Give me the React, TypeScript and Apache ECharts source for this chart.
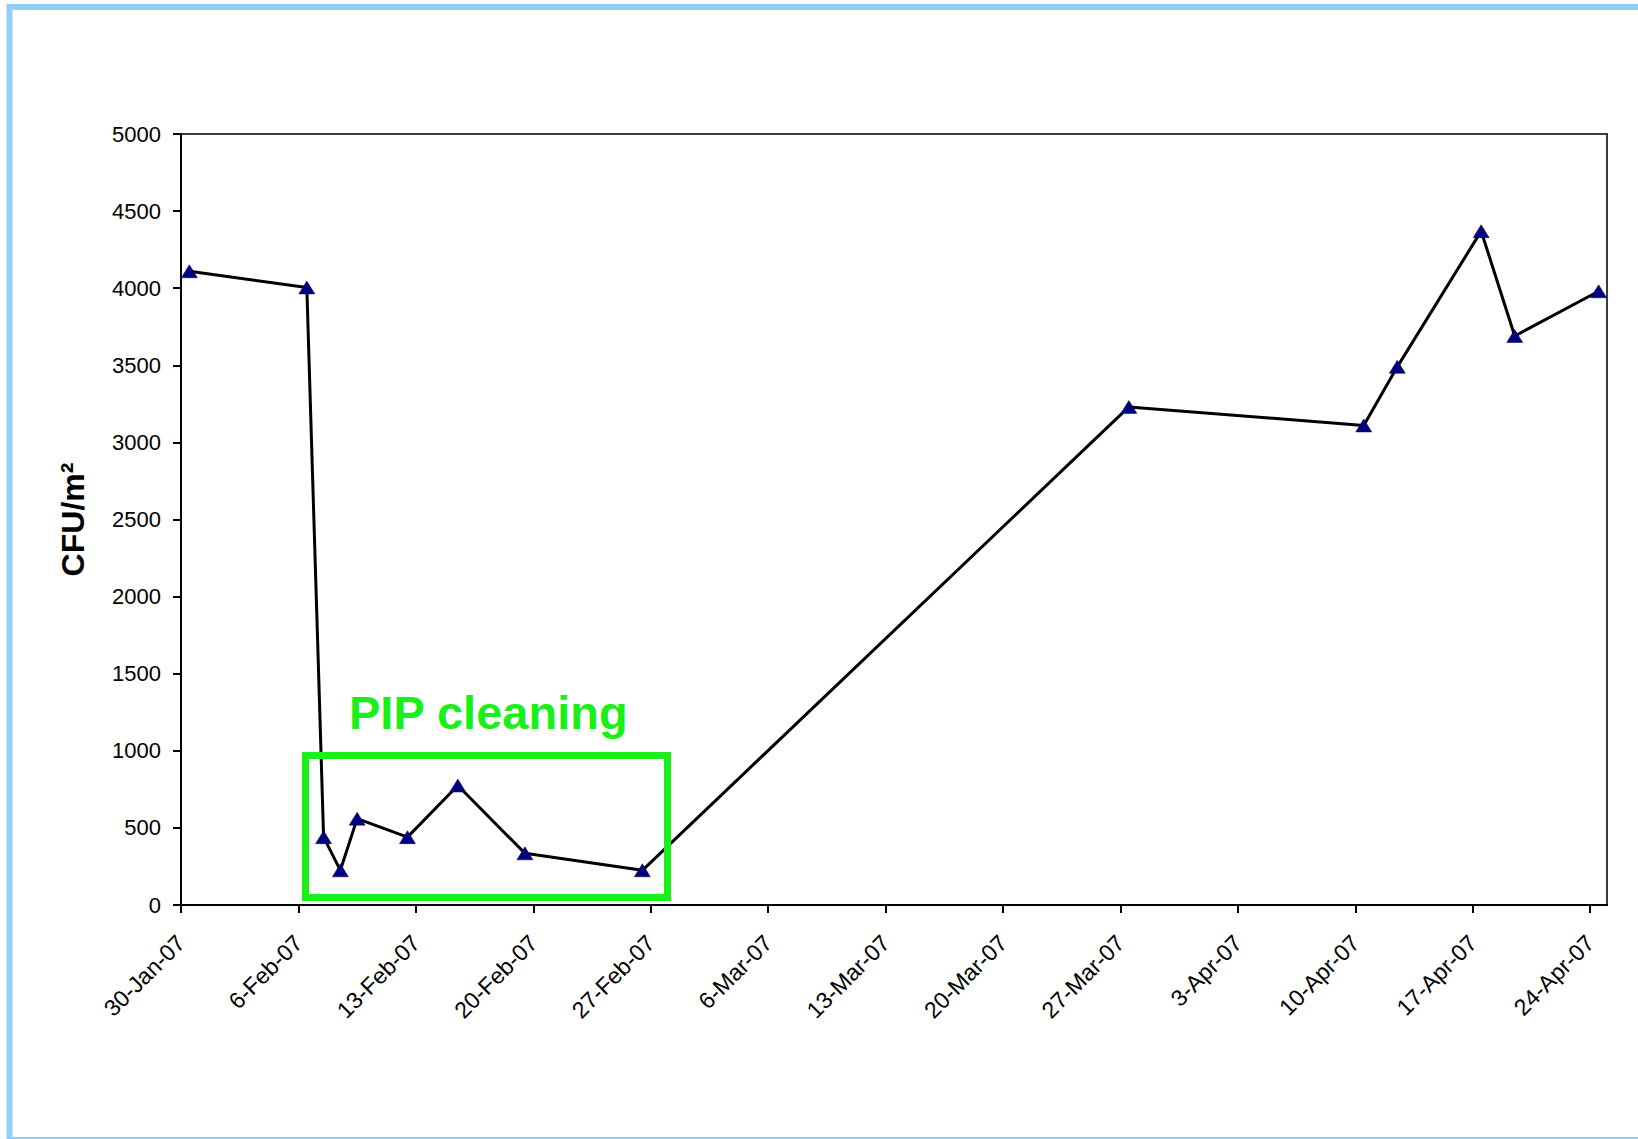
import React, { useEffect, useRef } from "react";
import * as echarts from "echarts";

// Sampling dates and measured values (CFU/m²)
const sampleDates = [
  "2007-01-30", "2007-02-06", "2007-02-07", "2007-02-08", "2007-02-09",
  "2007-02-12", "2007-02-15", "2007-02-19", "2007-02-26", "2007-03-27",
  "2007-04-10", "2007-04-12", "2007-04-17", "2007-04-19", "2007-04-24",
];
const cfuValues = [4110, 4005, 440, 225, 560, 440, 775, 335, 225, 3230, 3110, 3490, 4370, 3690, 3980];

// X axis tick labels (weekly)
const xTickLabels = [
  "30-Jan-07", "6-Feb-07", "13-Feb-07", "20-Feb-07", "27-Feb-07", "6-Mar-07",
  "13-Mar-07", "20-Mar-07", "27-Mar-07", "3-Apr-07", "10-Apr-07", "17-Apr-07", "24-Apr-07",
];
const axisStart = "2007-01-30";
const axisDays = 85;
const tickStepDays = 7;

const annotationText = "PIP cleaning";
const yAxisTitle = "CFU/m²";

const DAY = 86400000;

export default function App() {
  const ref = useRef<HTMLDivElement>(null);

  useEffect(() => {
    if (!ref.current) return;
    const chart = echarts.init(ref.current, undefined, { renderer: "svg" });
    const t0 = Date.parse(axisStart);
    const data = sampleDates.map((d, i) => [
      (Date.parse(d) - t0) / DAY + 0.5,
      cfuValues[i],
    ]);
    const tickValues = xTickLabels.map((_, i) => i * tickStepDays);
    const font = "'Liberation Sans', Arial, sans-serif";

    chart.setOption({
      animation: false,
      backgroundColor: "#ffffff",
      grid: {
        left: 181,
        top: 134,
        right: 31,
        bottom: 234,
        show: true,
        borderColor: "#3c3c3c",
        borderWidth: 2,
        backgroundColor: "transparent",
      },
      xAxis: {
        type: "value",
        min: 0,
        max: axisDays,
        interval: tickStepDays,
        splitLine: { show: false },
        axisLine: { show: true, lineStyle: { color: "#000", width: 2 } },
        axisTick: {
          show: true,
          length: 8,
          lineStyle: { color: "#000", width: 2 },
          customValues: tickValues,
        },
        axisLabel: {
          customValues: tickValues,
          rotate: 45,
          margin: 34,
          fontSize: 23,
          fontFamily: font,
          color: "#000",
          formatter: (v: number) => xTickLabels[Math.round(v / tickStepDays)] ?? "",
        },
      },
      yAxis: {
        type: "value",
        min: 0,
        max: 5000,
        interval: 500,
        name: yAxisTitle,
        nameLocation: "middle",
        nameRotate: 90,
        nameGap: 92,
        nameTextStyle: {
          fontSize: 32,
          fontWeight: "bold",
          fontFamily: font,
          color: "#000",
        },
        splitLine: { show: false },
        axisLine: { show: true, lineStyle: { color: "#000", width: 2 } },
        axisTick: { show: true, length: 8, lineStyle: { color: "#000", width: 2 } },
        axisLabel: {
          margin: 20,
          fontSize: 22,
          fontFamily: font,
          color: "#000",
          formatter: (v: number) => String(v),
        },
      },
      series: [
        {
          type: "line",
          data,
          lineStyle: { color: "#000", width: 3 },
          symbol: "triangle",
          symbolSize: [16, 13],
          itemStyle: { color: "#000080", borderColor: "#000040", borderWidth: 0.5 },
          z: 3,
        },
      ],
      graphic: [
        {
          type: "rect",
          shape: { x: 9.5, y: 7, width: 1640, height: 1133 },
          style: { fill: "none", stroke: "#92CEF8", lineWidth: 6 },
          silent: true,
        },
        {
          type: "rect",
          shape: { x: 305.5, y: 755.5, width: 362, height: 142 },
          style: { fill: "none", stroke: "#19F019", lineWidth: 7 },
          silent: true,
          z: 10,
        },
        {
          type: "text",
          x: 349,
          y: 712,
          style: {
            text: annotationText,
            fill: "#19F019",
            font: `bold 47px ${font}`,
            align: "left",
            verticalAlign: "middle",
          },
          silent: true,
          z: 10,
        },
      ],
    });
    return () => chart.dispose();
  }, []);

  return (
    <div
      ref={ref}
      style={{ position: "fixed", left: 0, top: 0, width: 1638, height: 1139, background: "#fff" }}
    />
  );
}
